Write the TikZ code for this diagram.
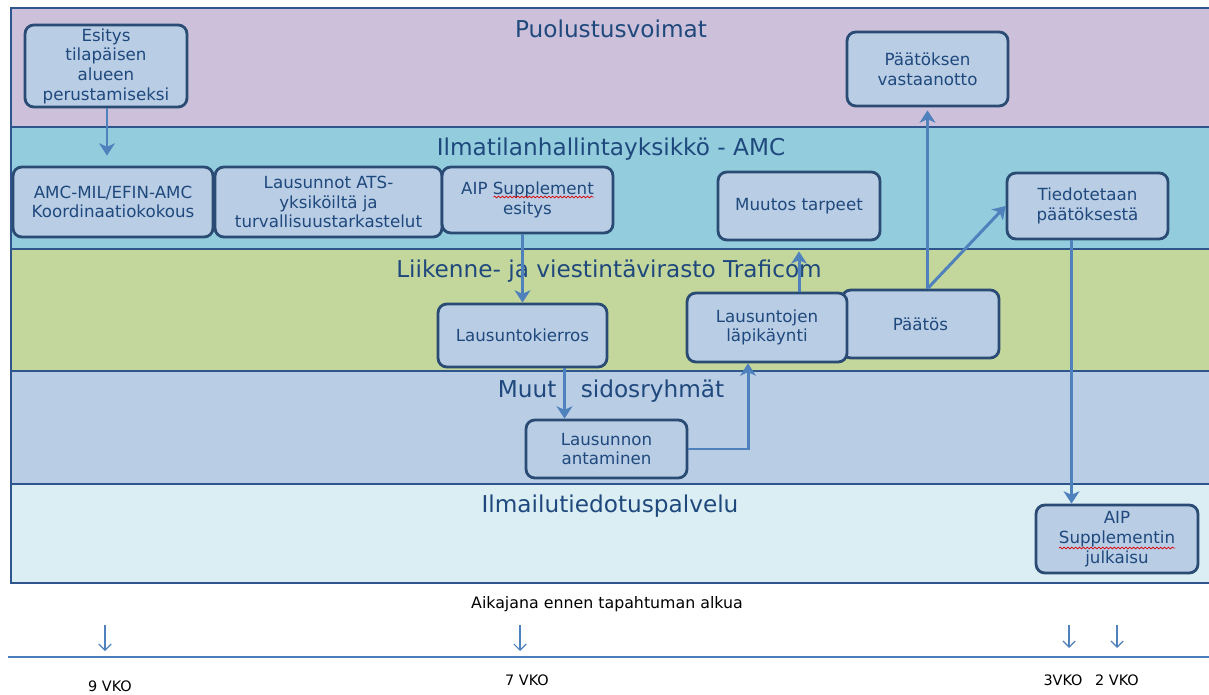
\documentclass[tikz,border=0pt]{standalone}
\usepackage{fontspec}
\setmainfont{DejaVu Sans}
\usetikzlibrary{arrows.meta,calc,decorations.pathmorphing}
\definecolor{cpurple}{HTML}{CCC0DA}
\definecolor{ccyan}{HTML}{93CDDD}
\definecolor{cgreen}{HTML}{C3D69B}
\definecolor{cblue}{HTML}{B9CDE5}
\definecolor{clight}{HTML}{DBEEF4}
\definecolor{cbox}{HTML}{B9CDE5}
\definecolor{cboxline}{HTML}{2A4B73}
\definecolor{cband}{HTML}{2F568C}
\definecolor{carrow}{HTML}{4F81BD}
\definecolor{ctext}{HTML}{1F497D}
\definecolor{ctime}{HTML}{4A7EBB}
\begin{document}
\begin{tikzpicture}[x=0.02cm,y=-0.02cm,
  box/.style={draw=cboxline,fill=cbox,line width=1.6pt,rounded corners=5pt,inner sep=0pt,align=center,text=ctext,font=\fontsize{9.5}{11.2}\selectfont},
  band/.style={draw=cband,line width=1.6pt},
  ttl/.style={text=ctext,font=\fontsize{13.2}{15}\selectfont,inner sep=0pt},
  arr/.style={draw=carrow,line width=1.7pt,-{Stealth[length=7pt,width=9pt,inset=2pt]}},
  tick/.style={draw=carrow,line width=0.7pt,-{Straight Barb[length=3.5pt,width=7pt]}},
  tlab/.style={text=black,font=\fontsize{8.2}{10}\selectfont,inner sep=0pt},
  squig/.style={draw=red!85!black,line width=0.4pt,decorate,decoration={snake,amplitude=0.5pt,segment length=2.2pt}},
]
\useasboundingbox (0,0) rectangle (1209,695);
\fill[white] (0,0) rectangle (1209,695);
% bands
\fill[cpurple] (11,8) rectangle (1209,127);
\fill[ccyan] (11,127) rectangle (1209,249);
\fill[cgreen] (11,249) rectangle (1209,371);
\fill[cblue] (11,371) rectangle (1209,484);
\fill[clight] (11,484) rectangle (1209,583);
\draw[band] (1212,8) -- (11,8) -- (11,583) -- (1212,583);
\draw[band] (11,127) -- (1212,127);
\draw[band] (11,249) -- (1212,249);
\draw[band] (11,371) -- (1212,371);
\draw[band] (11,484) -- (1212,484);
% titles
\node[ttl] (t1) at (611,29) {Puolustusvoimat};
\node[ttl] (t2) at (611,149) {Ilmatilanhallintayksikkö - AMC};
\node[ttl] (t3) at (609,271) {Liikenne- ja viestintävirasto Traficom};
\node[ttl] (t4) at (611,391) {Muut\hspace{1.05em}sidosryhmät};
\node[ttl] (t5) at (610,506) {Ilmailutiedotuspalvelu};
% boxes
\node[box,minimum width=3.24cm,minimum height=1.64cm] (esitys) at (106,66) {Esitys\\tilapäisen\\alueen\\perustamiseksi};
\node[box,minimum width=4.0cm,minimum height=1.4cm] (amcmil) at (113,202) {AMC-MIL/EFIN-AMC\\Koordinaatiokokous};
\node[box,minimum width=4.54cm,minimum height=1.4cm] (lausats) at (328.5,202) {Lausunnot ATS-\\yksiköiltä ja\\turvallisuustarkastelut};
\node[box,minimum width=3.42cm,minimum height=1.32cm] (aipesit) at (527.5,200) {AIP Supplement\\esitys};
\node[box,minimum width=3.24cm,minimum height=1.36cm] (muutos) at (799,206) {Muutos tarpeet};
\node[box,minimum width=3.22cm,minimum height=1.48cm] (pvast) at (927.5,69) {Päätöksen\\vastaanotto};
\node[box,minimum width=3.22cm,minimum height=1.32cm] (tiedot) at (1087.5,206) {Tiedotetaan\\päätöksestä};
\node[box,minimum width=3.38cm,minimum height=1.26cm] (lk) at (522.5,335.5) {Lausuntokierros};
\node[box,minimum width=3.14cm,minimum height=1.36cm] (paatos) at (920.5,324) {Päätös};
\node[box,minimum width=3.2cm,minimum height=1.38cm] (lj) at (767,327.5) {Lausuntojen\\läpikäynti};
\node[box,minimum width=3.22cm,minimum height=1.16cm] (la) at (606.5,449) {Lausunnon\\antaminen};
\node[box,minimum width=3.24cm,minimum height=1.36cm] (asj) at (1117,539) {AIP\\Supplementin\\julkaisu};
% spell-check underlines
\draw[squig] ($(aipesit.center)+(-34,-3)$) -- ($(aipesit.center)+(66,-3)$);
\draw[squig] ($(asj.center)+(-58,9)$) -- ($(asj.center)+(58,9)$);
% connectors
\draw[arr,shorten >=0.2cm] ($(esitys.south)+(1,0)$) -- ($(esitys.south |- amcmil.north)+(1,0)$);
\draw[arr] (aipesit.south -| lk.north) -- (lk.north);
\coordinate (lkout) at ($(lk.south)+(42,0)$);
\draw[arr] (lkout) -- (lkout |- la.north);
\coordinate (ljin) at ($(lj.south)+(-19,0)$);
\draw[arr] (la.east) -| (ljin);
\draw[arr,shorten >=0.2cm] (muutos.south |- lj.north) -- (muutos.south);
\coordinate (pout) at (pvast.south |- paatos.north);
\draw[arr,shorten >=0.06cm] (pout) -- (pvast.south);
\draw[arr] (pout) -- (tiedot.west);
\coordinate (tout) at ($(tiedot.south)+(-16,0)$);
\draw[arr] (tout) -- (tout |- asj.north);
% timeline
\node[text=black,font=\fontsize{9}{11}\selectfont,inner sep=0pt] (aika) at (607,604) {Aikajana ennen tapahtuman alkua};
\coordinate (tlL) at (8,657);
\coordinate (tlR) at (1209,657);
\draw[draw=ctime,line width=1.7pt] (tlL) -- (tlR);
\coordinate (a1) at (105,625); \coordinate (b1) at (105,651);
\coordinate (a2) at (520,625); \coordinate (b2) at (520,651);
\coordinate (a3) at (1069,625); \coordinate (b3) at (1069,648);
\coordinate (a4) at (1117,625); \coordinate (b4) at (1117,648);
\draw[tick] (a1) -- (b1);
\draw[tick] (a2) -- (b2);
\draw[tick] (a3) -- (b3);
\draw[tick] (a4) -- (b4);
\node[tlab] (v9) at (110,686) {9 VKO};
\node[tlab] (v7) at (527,680) {7 VKO};
\node[tlab] (v3) at (1063,680) {3VKO};
\node[tlab] (v2) at (1117,680) {2 VKO};
\end{tikzpicture}
\end{document}
